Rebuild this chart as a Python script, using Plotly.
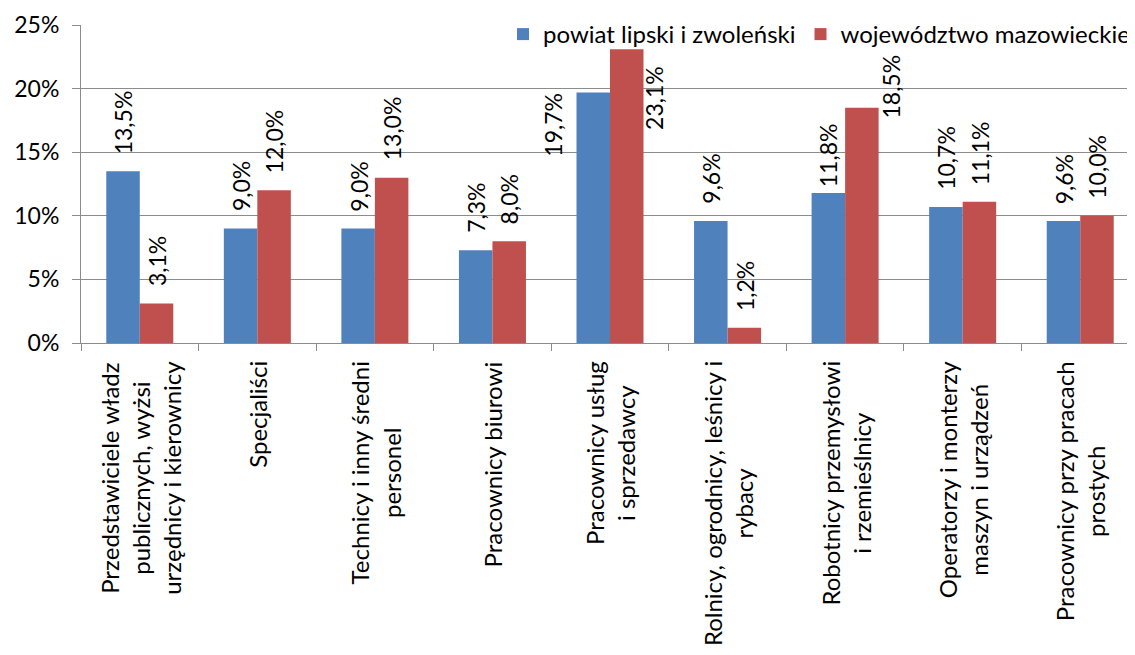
import plotly.graph_objects as go

# ---------------- data ----------------
categories = [
    "Przedstawiciele władz<br>publicznych, wyżsi<br>urzędnicy i kierownicy",
    "Specjaliści",
    "Technicy i inny średni<br>personel",
    "Pracownicy biurowi",
    "Pracownicy usług<br>i sprzedawcy",
    "Rolnicy, ogrodnicy, leśnicy i<br>rybacy",
    "Robotnicy przemysłowi<br>i rzemieślnicy",
    "Operatorzy i monterzy<br>maszyn i urządzeń",
    "Pracownicy przy pracach<br>prostych",
]
series_names = ["powiat lipski i zwoleński", "województwo mazowieckie"]
powiat = [13.5, 9.0, 9.0, 7.3, 19.7, 9.6, 11.8, 10.7, 9.6]
wojewodztwo = [3.1, 12.0, 13.0, 8.0, 23.1, 1.2, 18.5, 11.1, 10.0]
y_ticks = [0, 5, 10, 15, 20, 25]
y_tick_labels = ["0%", "5%", "10%", "15%", "20%", "25%"]

# ---------------- style / layout ----------------
# (page body has an 8px margin, so margins are compensated)
W, H = 1135, 655
ML, MR, MT, MB = 73, 4, 17, 320
BARGAP = 0.43
colors = ["#4F81BD", "#C0504D"]
FONT = "Lato"
GRID = "#8C8C8C"

plot_w = W - ML - MR
plot_h = H - MT - MB
cat_w = plot_w / len(categories)
bar_w = (1 - BARGAP) * cat_w / 2
series_vals = [powiat, wojewodztwo]

fig = go.Figure()
for name, vals, col in zip(series_names, series_vals, colors):
    fig.add_trace(go.Bar(
        x=categories, y=vals, name=name,
        marker=dict(color=col, line=dict(width=0)),
        hoverinfo="skip",
    ))

# data labels (rotated), with manual nudges for a few labels
nudges = {(0, 4): (-40, -81), (1, 4): (27, -98), (1, 6): (29, -28), (0, 6): (0, -11)}
annotations = []
for s, vals in enumerate(series_vals):
    offset = (-bar_w / 2) if s == 0 else (bar_w / 2)
    for i, (cat, v) in enumerate(zip(categories, vals)):
        dx, dy = nudges.get((s, i), (0, 0))
        annotations.append(dict(
            x=cat, y=v, xref="x", yref="y",
            text=f"{v:.1f}".replace(".", ",") + "%",
            textangle=-90, showarrow=False,
            xanchor="center", yanchor="bottom",
            xshift=offset + dx, yshift=15 + dy,
            font=dict(family=FONT, size=23, color="black"),
        ))

# category labels (rotated, centered lines)
for cat in categories:
    annotations.append(dict(
        x=cat, y=0, xref="x", yref="paper",
        text=cat, textangle=-90, showarrow=False,
        xanchor="center", yanchor="top", align="center",
        yshift=-16,
        font=dict(family=FONT, size=24, color="black"),
    ))

fig.update_layout(
    width=W, height=H,
    margin=dict(l=ML, r=MR, t=MT, b=MB, autoexpand=False),
    paper_bgcolor="white", plot_bgcolor="white",
    barmode="group", bargap=BARGAP, bargroupgap=0,
    font=dict(family=FONT, size=23, color="black"),
    showlegend=True,
    legend=dict(
        orientation="h", x=(495 - ML) / plot_w, xanchor="left",
        y=1 + 13 / plot_h, yanchor="top",
        bgcolor="rgba(0,0,0,0)", font=dict(family=FONT, size=24, color="black"),
        itemwidth=30, tracegroupgap=0,
    ),
    annotations=annotations,
)
fig.update_xaxes(
    type="category", showticklabels=False, showgrid=False, automargin=False,
    showline=True, linecolor=GRID, linewidth=1,
    ticks="outside", tickson="boundaries", ticklen=7, tickcolor=GRID, tickwidth=1,
    range=[-0.5, len(categories) - 0.5],
)
fig.update_yaxes(
    range=[0, 25], tickvals=y_ticks, ticktext=y_tick_labels, automargin=False,
    showgrid=True, gridcolor=GRID, gridwidth=1,
    showline=True, linecolor=GRID, linewidth=1,
    ticks="outside", ticklen=8, tickcolor=GRID, tickwidth=1,
    tickfont=dict(family=FONT, size=23, color="black"),
    ticklabelstandoff=8, zeroline=False,
)

fig.write_html("out.html")
